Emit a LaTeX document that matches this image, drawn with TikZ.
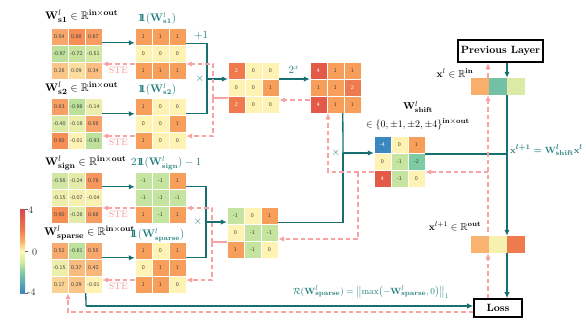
\documentclass[tikz,border=0pt]{standalone}
\usepackage{amsmath,amssymb}
\usetikzlibrary{arrows.meta,calc}
\definecolor{tl}{HTML}{17706F}
\definecolor{tltext}{HTML}{1F7D7B}
\definecolor{pk}{HTML}{F7A3A3}
\definecolor{stec}{HTML}{F39393}
\definecolor{c4}{HTML}{E45A49}
\definecolor{c2}{HTML}{EF7A4E}
\definecolor{c1}{HTML}{F89E5B}
\definecolor{c0}{HTML}{FEF3B2}
\definecolor{cm1}{HTML}{C5E49F}
\definecolor{cm2}{HTML}{7CCBA2}
\definecolor{cm4}{HTML}{3B88C0}
\definecolor{wpos}{HTML}{F68E55}
\definecolor{wneg}{HTML}{BDE09B}
\definecolor{cbtop}{HTML}{D9464D}
\definecolor{cbone}{HTML}{FBB063}
\definecolor{cbmid}{HTML}{FEF7B6}
\definecolor{cbmone}{HTML}{D2EBA0}
\definecolor{cbmtwo}{HTML}{7FCBA4}
\definecolor{cbbot}{HTML}{3A86BF}
\newcommand{\onebb}{\mathbf{1}\mkern-7.5mu\mathbf{1}}
\newcommand\matcells[2]{%
  \foreach \cc/\vv [count=\ii from 0] in {#2}{%
    \pgfmathtruncatemacro\cl{mod(\ii,3)}%
    \pgfmathtruncatemacro\rw{div(\ii,3)}%
    \fill[\cc] ($(#1.north west)+(17*\cl,17*\rw)$) rectangle ++(17,17);
    \draw[white,line width=0.3pt] ($(#1.north west)+(17*\cl,17*\rw)$) rectangle ++(17,17);
    \node[celltxt] (#1-\ii) at ($(#1.north west)+(17*\cl+8.5,17*\rw+8.5)$) {\vv};
  }}
\newcommand\veccells[2]{%
  \foreach \cc [count=\ii from 0] in {#2}{%
    \fill[\cc] ($(#1.north west)+(18*\ii,0)$) rectangle ++(18,17);
  }}
\newcommand\wt[1]{\textcolor{white}{#1}}
\begin{document}
\begin{tikzpicture}[x=1pt,y=-1pt,
  mat/.style={rectangle,inner sep=0,minimum width=51pt,minimum height=51pt},
  vecbox/.style={rectangle,inner sep=0,minimum width=54pt,minimum height=17pt},
  celltxt/.style={font=\fontsize{5.6}{6}\selectfont\sffamily,text=black!75,inner sep=0},
  lbl/.style={font=\fontsize{11}{13}\selectfont,inner sep=0},
  mlbl/.style={font=\fontsize{10}{12}\selectfont,inner sep=0},
  slbl/.style={font=\fontsize{9.5}{11}\selectfont,inner sep=0},
  tlbl/.style={font=\fontsize{10.5}{12}\selectfont,inner sep=0,text=tltext},
  ste/.style={font=\fontsize{9.5}{10}\selectfont,text=stec,inner sep=0},
  fw/.style={draw=tl,line width=1.3pt,-{Latex[length=6pt,width=5.5pt]}},
  ln/.style={draw=tl,line width=1.3pt},
  bw/.style={draw=pk,line width=1.3pt,dash pattern=on 4.5pt off 3pt,-{Latex[length=6pt,width=5.5pt]}},
  bwl/.style={draw=pk,line width=1.3pt},
  boxn/.style={draw=black,line width=1.6pt,fill=white,inner sep=0,font=\fontsize{10.5}{12}\selectfont\bfseries}
]
\useasboundingbox (0,0) rectangle (586,325);

% ---------- matrices ----------
\node[mat] (Ws1) at (76.5,53.5) {};
\node[mat] (Is1) at (160.5,53.5) {};
\node[mat] (Ws2) at (76.5,123.5) {};
\node[mat] (Is2) at (160.5,123.5) {};
\node[mat] (Wsg) at (76.5,197.5) {};
\node[mat] (Isg) at (160.5,197.5) {};
\node[mat] (Wsp) at (76.5,267.5) {};
\node[mat] (Isp) at (160.5,267.5) {};
\node[mat] (P1) at (253.5,87.5) {};
\node[mat] (E1) at (335.5,87.5) {};
\node[mat] (P2) at (252.5,232.5) {};
\node[mat] (Wsh) at (399.5,161.5) {};
\node[vecbox] (xl) at (498,86.5) {};
\node[vecbox] (xo) at (498,244.5) {};

\matcells{Ws1}{wpos!75!c0/0.54,wpos/0.88,wpos!85!c0/0.67,wneg/-0.97,wneg!85!c0/-0.72,wneg!65!c0/-0.51,wpos!45!c0/0.28,wpos!20!c0/0.09,wpos!52!c0/0.34}
\matcells{Ws2}{wpos!82!c0/0.63,wneg/-0.98,wneg!25!c0/-0.14,wneg!55!c0/-0.40,wneg!30!c0/-0.18,wpos!78!c0/0.58,wpos/0.90,c0/-0.01,wneg/-0.93}
\matcells{Wsg}{wneg!70!c0/-0.56,wneg!38!c0/-0.24,wpos!92!c0/0.78,wneg!26!c0/-0.15,wneg!14!c0/-0.07,wneg!8!c0/-0.04,wpos/0.90,wneg!42!c0/-0.28,wpos!86!c0/0.68}
\matcells{Wsp}{wpos!72!c0/0.52,wneg!95!c0/-0.81,wpos!74!c0/0.55,wneg!26!c0/-0.15,wpos!55!c0/0.37,wpos!60!c0/0.42,wpos!32!c0/0.17,wpos!46!c0/0.29,c0/-0.01}
\matcells{Is1}{c1/1,c1/1,c1/1,c0/0,c0/0,c0/0,c1/1,c1/1,c1/1}
\matcells{Is2}{c1/1,c0/0,c0/0,c0/0,c0/0,c1/1,c1/1,c0/0,c0/0}
\matcells{Isg}{cm1/-1,cm1/-1,c1/1,cm1/-1,cm1/-1,cm1/-1,c1/1,cm1/-1,c1/1}
\matcells{Isp}{c1/1,c0/0,c1/1,c0/0,c1/1,c1/1,c1/1,c1/1,c0/0}
\matcells{P1}{c2/\wt{2},c0/0,c0/0,c0/0,c0/0,c1/1,c2/\wt{2},c0/0,c0/0}
\matcells{E1}{c4/\wt{4},c1/1,c1/1,c1/1,c1/1,c2/\wt{2},c4/\wt{4},c1/1,c1/1}
\matcells{P2}{cm1/-1,c0/0,c1/1,c0/0,cm1/-1,cm1/-1,c1/1,cm1/-1,c0/0}
\matcells{Wsh}{cm4/\wt{-4},c0/0,c1/1,c0/0,cm1/-1,cm2/-2,c4/\wt{4},cm1/-1,c0/0}
\veccells{xl}{c1!80!c0,cm2!85!cm4,cm1!60!c0}
\veccells{xo}{c1!75!c0,c0!85!cm1,c2}

% ---------- boxes ----------
\node[boxn,minimum width=85pt,minimum height=22pt] (Prev) at (500.5,51) {Previous Layer};
\node[boxn,minimum width=48pt,minimum height=18pt] (Loss) at (498,308) {Loss};

% ---------- labels ----------
\node[lbl,anchor=west] (lWs1) at (45,16) {$\mathbf{W}^{l}_{\mathbf{s1}}\in\mathbb{R}^{\mathbf{in\times out}}$};
\node[tlbl] (lIs1) at (157,18) {$\onebb(\mathbf{W}^{l}_{\mathbf{s1}})$};
\node[lbl,anchor=west] (lWs2) at (45,88) {$\mathbf{W}^{l}_{\mathbf{s2}}\in\mathbb{R}^{\mathbf{in\times out}}$};
\node[tlbl] (lIs2) at (157,89) {$\onebb(\mathbf{W}^{l}_{\mathbf{s2}})$};
\node[lbl,anchor=west] (lWsg) at (45,163) {$\mathbf{W}^{l}_{\mathbf{sign}}\in\mathbb{R}^{\mathbf{in\times out}}$};
\node[tlbl,anchor=west] (lIsg) at (131,163) {$2\onebb(\mathbf{W}^{l}_{\mathbf{sign}})-1$};
\node[lbl,anchor=west] (lWsp) at (44,233) {$\mathbf{W}^{l}_{\mathbf{sparse}}\in\mathbb{R}^{\mathbf{in\times out}}$};
\node[tlbl] (lIsp) at (157,235) {$\onebb(\mathbf{W}^{l}_{\mathbf{sparse}})$};
\node[mlbl] (lWsh1) at (418,107) {$\mathbf{W}^{l}_{\mathbf{shift}}$};
\node[mlbl] (lWsh2) at (418,124.5) {$\in\{0,\pm1,\pm2,\pm4\}^{\mathbf{in\times out}}$};
\node[mlbl] (lxl) at (455,73) {$\mathbf{x}^{l}\in\mathbb{R}^{\mathbf{in}}$};
\node[mlbl] (lxo) at (455,226) {$\mathbf{x}^{l+1}\in\mathbb{R}^{\mathbf{out}}$};
\node[slbl,text=tltext,anchor=west] (leq) at (510,150) {$\boldsymbol{\mathbf{x}^{l+1}=\mathbf{W}^{l}_{\mathbf{shift}}\mathbf{x}^{l}}$};
\node[slbl,text=tltext] (lR) at (371,292) {$\mathcal{R}(\mathbf{W}^{l}_{\mathbf{sparse}})=\bigl\|\max\bigl(-\mathbf{W}^{l}_{\mathbf{sparse}},0\bigr)\bigr\|_1$};
\node[tlbl] (lp1) at (201,35) {$+1$};
\node[tlbl] (lx1) at (200,79) {$\times$};
\node[tlbl] (lx2) at (198,222) {$\times$};
\node[tlbl] (lx3) at (336,153) {$\times$};
\node[tlbl] (l2x) at (294,70) {$2^{x}$};

% ---------- forward (teal) ----------
\draw[fw] ($(Ws1.north east)+(0,15)$) -- ($(Is1.north west)+(0,15)$);
\draw[fw] ($(Ws2.north east)+(0,16)$) -- ($(Is2.north west)+(0,16)$);
\draw[fw] ($(Wsg.north east)+(0,15)$) -- ($(Isg.north west)+(0,15)$);
\draw[fw] ($(Wsp.north east)+(0,16)$) -- ($(Isp.north west)+(0,16)$);

\coordinate (j1) at (207,79);
\draw[ln] ($(Is1.north east)+(0,16)$) -| (j1);
\draw[ln] ($(Is2.north east)+(0,16)$) -| (j1);
\draw[fw] (j1) -- (P1.west |- j1);
\draw[fw] (P1.east |- j1) -- (E1.west |- j1);

\coordinate (j2) at (206,222);
\draw[ln] ($(Isg.north east)+(0,15)$) -| (j2);
\draw[ln] ($(Isp.north east)+(0,16)$) -| (j2);
\draw[fw] (j2) -- (P2.west |- j2);

\coordinate (j3) at (343,153);
\draw[ln] ($(E1.south west)+(33,0)$) -- (j3);
\draw[ln] ($(P2.north east)+(0,16)$) -| (j3);
\draw[fw] (j3) -- (Wsh.west |- j3);

\coordinate (j4) at (507,154);
\draw[ln] (Wsh.east |- j4) -- (j4);
\draw[fw] (Prev.south -| j4) -- (xl.north -| j4);
\draw[fw] (xl.south -| j4) -- (xo.north -| j4);
\draw[fw] (xo.south -| j4) -- (Loss.north -| j4);

\coordinate (j5) at (86,306);
\draw[ln] ($(Wsp.south west)+(35,0)$) -- (j5);
\draw[fw] (j5) -- (Loss.west |- j5);

% ---------- backward (pink dashed) ----------
\coordinate (d1) at (488,172);
\draw[bw] (Loss.north -| d1) -- (xo.south -| d1);
\draw[bw] ($(xo.north -| d1)+(0,-4)$) -- (xl.south -| d1);
\draw[bw] (d1) -- (Wsh.east |- d1);
\draw[bw] (xl.north -| d1) -- (Prev.south -| d1);

\coordinate (d2) at (328,172);
\coordinate (d3) at (358,172);
\coordinate (d4) at (358,239);
\draw[bw] (Wsh.west |- d2) -- (d2) -- (E1.south -| d2);
\draw[bw] (d3) -- (d4) -- (P2.east |- d4);

\coordinate (d5) at (300,100);
\draw[bw] (E1.west |- d5) -- (P1.east |- d5);

\coordinate (d6) at (213,98);
\coordinate (d7) at (213,64);
\coordinate (d8) at (213,136);
\draw[bwl] (P1.west |- d6) -- (d6);
\draw[bw] (d6) -- (d7) -- (Is1.east |- d7);
\draw[bw] (d6) -- (d8) -- (Is2.east |- d8);

\coordinate (d9) at (212,242);
\coordinate (d10) at (212,208);
\coordinate (d11) at (212,280);
\draw[bwl] (P2.west |- d9) -- (d9);
\draw[bw] (d9) -- (d10) -- (Isg.east |- d10);
\draw[bw] (d9) -- (d11) -- (Isp.east |- d11);

\draw[bw] (Is1.west |- d7) -- node[ste,below=2.5pt] (ste1) {STE} (Ws1.east |- d7);
\draw[bw] (Is2.west |- d8) -- node[ste,below=2.5pt] (ste2) {STE} (Ws2.east |- d8);
\draw[bw] (Isg.west |- d10) -- node[ste,below=2.5pt] (ste3) {STE} (Wsg.east |- d10);
\draw[bw] (Isp.west |- d11) -- node[ste,below=2.5pt] (ste4) {STE} (Wsp.east |- d11);

\coordinate (d12) at (68,312);
\draw[bw] (Loss.west |- d12) -- (d12) -- (Wsp.south -| d12);

% ---------- colour bar ----------
\shade[top color=cbtop,bottom color=c2] (20,209) rectangle (25,230);
\shade[top color=c2,bottom color=cbone] (20,230) rectangle (25,241);
\shade[top color=cbone,bottom color=cbmid] (20,241) rectangle (25,251);
\shade[top color=cbmid,bottom color=cbmone] (20,251) rectangle (25,262);
\shade[top color=cbmone,bottom color=cbmtwo] (20,262) rectangle (25,272);
\shade[top color=cbmtwo,bottom color=cbbot] (20,272) rectangle (25,293);
\foreach \yy in {209,251,293} \draw[black!60,line width=0.4pt] (25,\yy) -- (27.5,\yy);
\node[mlbl,anchor=west,text=black!80] (cb4) at (28,210) {4};
\node[mlbl,anchor=west,text=black!80] (cb0) at (32,252) {0};
\node[mlbl,anchor=west,text=black!80] (cbm4) at (27,292) {-4};
\end{tikzpicture}
\end{document}
